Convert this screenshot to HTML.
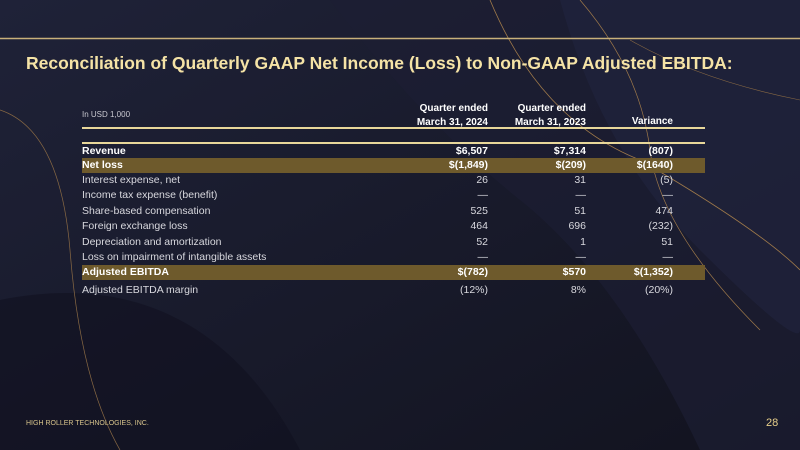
<!DOCTYPE html>
<html><head><meta charset="utf-8"><style>
body{margin:0;width:800px;height:450px;overflow:hidden;background:#181a2c;font-family:"Liberation Sans",sans-serif;position:relative}
.bg{position:absolute;left:0;top:0}
.t{position:absolute;white-space:nowrap}
.r{position:absolute;left:82px;width:623px;height:15px;font-size:10.5px;line-height:15px;color:#d8d8de}
.r span{position:absolute}
.a{right:217px}.b{right:119px}.c{right:32px}
.band{background:#6e5a2c;color:#fff;font-weight:bold}
.bold{font-weight:bold;color:#fff}
</style></head><body>
<svg class="bg" width="800" height="450">
<defs><linearGradient id="g" x1="0" y1="0" x2="1" y2="1"><stop offset="0" stop-color="#1f2238"/><stop offset="1" stop-color="#12131f"/></linearGradient></defs>
<rect width="800" height="450" fill="url(#g)"/>
<path d="M330 0 Q420 120 520 200 T700 450 L800 450 L800 0Z" fill="#1c1e33" opacity=".7"/>
<path d="M560 0 Q600 150 700 250 T800 330 L800 0Z" fill="#222540" opacity=".6"/>
<path d="M0 300 Q200 260 300 450 L0 450Z" fill="#101120" opacity=".6"/>
<path d="M490 0 Q540 120 640 160 Q760 230 800 270" stroke="#a07a4a" stroke-width=".8" fill="none"/>
<path d="M580 0 Q640 70 650 150 Q660 230 760 330" stroke="#a07a4a" stroke-width=".7" fill="none"/>
<path d="M0 110 Q60 130 70 250 Q80 380 120 450" stroke="#8a6a44" stroke-width=".7" fill="none"/>
<path d="M630 40 Q700 80 800 100" stroke="#8a6a44" stroke-width=".6" fill="none"/>
<line x1="0" y1="38.5" x2="800" y2="38.5" stroke="#c8b07a" stroke-width="1.5"/>
<line x1="82" y1="128" x2="705" y2="128" stroke="#e8d79a" stroke-width="2"/>
<line x1="82" y1="143" x2="705" y2="143" stroke="#e8d79a" stroke-width="2"/>
</svg>
<div class="t" style="left:26px;top:53px;font-size:17.5px;font-weight:bold;color:#f5e3a6">Reconciliation of Quarterly GAAP Net Income (Loss) to Non-GAAP Adjusted EBITDA:</div>
<div class="t" style="left:82px;top:110px;font-size:8px;color:#c8c8d0">In USD 1,000</div>
<div class="t" style="left:400px;top:102px;width:88px;text-align:right;font-size:10px;line-height:14px;color:#fff;font-weight:bold">Quarter ended<br>March 31, 2024</div>
<div class="t" style="left:490px;top:102px;width:96px;text-align:right;font-size:10px;line-height:14px;color:#fff;font-weight:bold">Quarter ended<br>March 31, 2023</div>
<div class="t" style="left:600px;top:116px;width:73px;text-align:right;font-size:10px;color:#fff;font-weight:bold">Variance</div>
<div class="r bold" style="top:144px"><span style="left:0">Revenue</span><span class="a">$6,507</span><span class="b">$7,314</span><span class="c">(807)</span></div>
<div class="r band" style="top:158px"><span style="left:0">Net loss</span><span class="a">$(1,849)</span><span class="b">$(209)</span><span class="c">$(1640)</span></div>
<div class="r" style="top:173px"><span style="left:0">Interest expense, net</span><span class="a">26</span><span class="b">31</span><span class="c">(5)</span></div>
<div class="r" style="top:188px"><span style="left:0">Income tax expense (benefit)</span><span class="a">—</span><span class="b">—</span><span class="c">—</span></div>
<div class="r" style="top:204px"><span style="left:0">Share-based compensation</span><span class="a">525</span><span class="b">51</span><span class="c">474</span></div>
<div class="r" style="top:219px"><span style="left:0">Foreign exchange loss</span><span class="a">464</span><span class="b">696</span><span class="c">(232)</span></div>
<div class="r" style="top:235px"><span style="left:0">Depreciation and amortization</span><span class="a">52</span><span class="b">1</span><span class="c">51</span></div>
<div class="r" style="top:250px"><span style="left:0">Loss on impairment of intangible assets</span><span class="a">—</span><span class="b">—</span><span class="c">—</span></div>
<div class="r band" style="top:265px"><span style="left:0">Adjusted EBITDA</span><span class="a">$(782)</span><span class="b">$570</span><span class="c">$(1,352)</span></div>
<div class="r" style="top:283px"><span style="left:0">Adjusted EBITDA margin</span><span class="a">(12%)</span><span class="b">8%</span><span class="c">(20%)</span></div>
<div class="t" style="left:26px;top:420px;font-size:7px;color:#d8c48c">HIGH ROLLER TECHNOLOGIES, INC.</div>
<div class="t" style="left:766px;top:417px;font-size:11px;color:#e8d08a">28</div>
</body></html>
